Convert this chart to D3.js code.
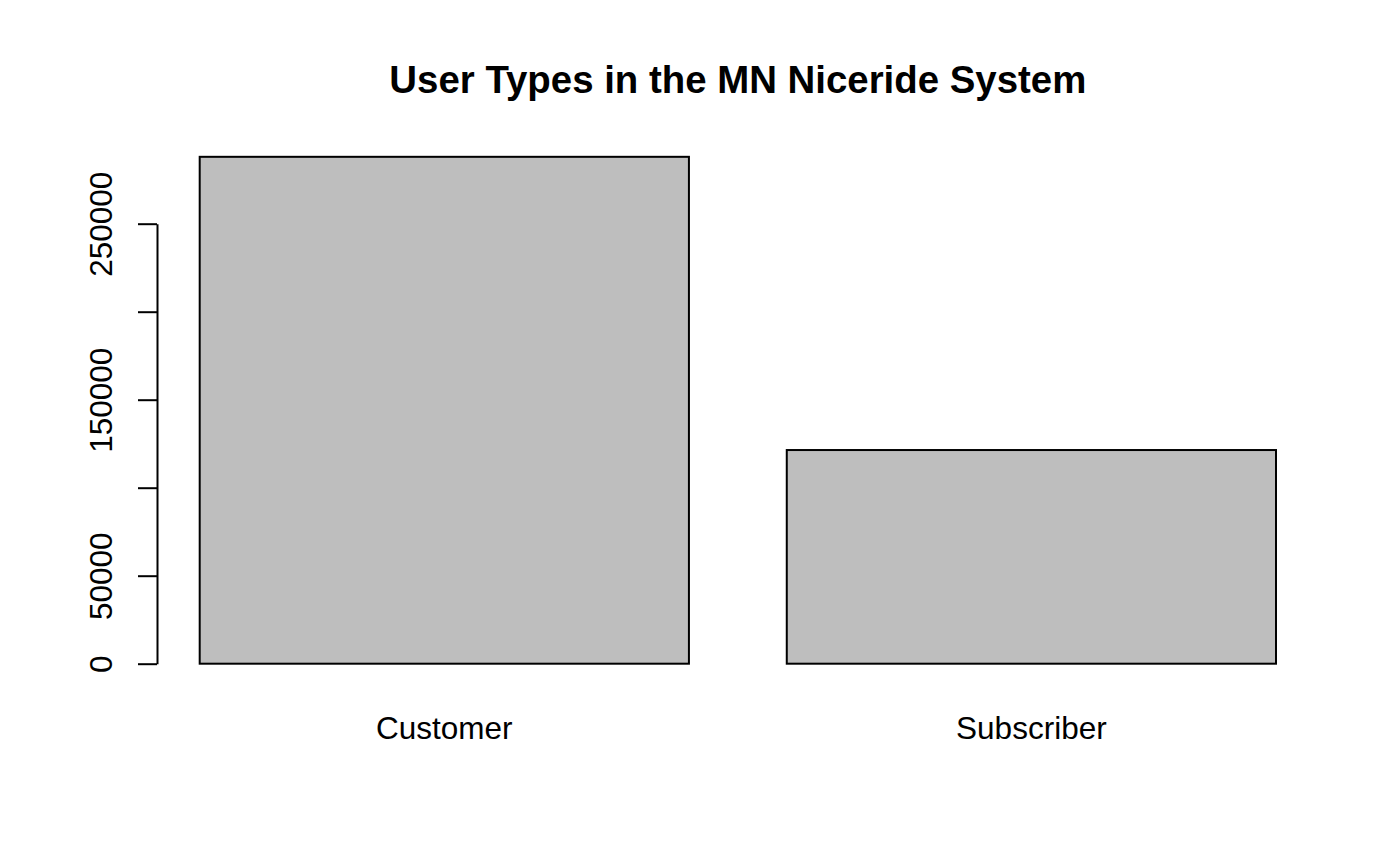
<!DOCTYPE html>
<html>
<head>
<meta charset="utf-8">
<script src="https://cdn.jsdelivr.net/npm/d3@7"></script>
<style>
html,body{margin:0;padding:0;background:#fff;}
svg{display:block;}
text{font-family:"Liberation Sans",Arial,sans-serif;fill:#000;}
</style>
</head>
<body>
<svg id="chart" width="1400" height="865"></svg>
<script>
const categories = ["Customer", "Subscriber"];
const counts = [288000, 121400];
const tickValues = [0, 50000, 100000, 150000, 200000, 250000];
const tickLabels = ["0", "50000", "", "150000", "", "250000"];
const title = "User Types in the MN Niceride System";

const svg = d3.select("#chart");

const y = d3.scaleLinear().domain([0, 250000]).range([663.7, 223.7]);
const x = d3.scaleBand().domain(categories).range([199.7, 1276]).paddingInner(0.2 / 1.2).paddingOuter(0);

// bars
svg.append("g").selectAll("rect")
  .data(categories.map((c, i) => ({c, v: counts[i]})))
  .join("rect")
  .attr("x", d => x(d.c))
  .attr("y", d => y(d.v))
  .attr("width", x.bandwidth())
  .attr("height", d => y(0) - y(d.v))
  .attr("fill", "#BEBEBE")
  .attr("stroke", "#000")
  .attr("stroke-width", 2);

// y axis
const axis = d3.axisLeft(y)
  .tickValues(tickValues)
  .tickSize(19)
  .tickSizeOuter(0)
  .tickFormat((d, i) => tickLabels[i]);
const gA = svg.append("g").attr("transform", "translate(157,0)").call(axis);
gA.select(".domain").attr("stroke", "#000").attr("stroke-width", 2);
gA.selectAll(".tick line").attr("stroke", "#000").attr("stroke-width", 2);
gA.selectAll(".tick text")
  .attr("x", 0).attr("y", 0).attr("dy", null)
  .attr("transform", "translate(-45,0) rotate(-90)")
  .attr("text-anchor", "middle")
  .style("font-family", "'Liberation Sans', Arial, sans-serif")
  .style("font-size", "31.5px")
  .attr("fill", "#000");

// category labels
svg.append("g").selectAll("text")
  .data(categories)
  .join("text")
  .attr("x", d => x(d) + x.bandwidth() / 2)
  .attr("y", 739)
  .attr("text-anchor", "middle")
  .style("font-size", "31.5px")
  .text(d => d);

// title
svg.append("text")
  .attr("x", (x.range()[0] + x.range()[1]) / 2)
  .attr("y", 93)
  .attr("text-anchor", "middle")
  .style("font-size", "38.4px")
  .style("font-weight", "bold")
  .text(title);
</script>
</body>
</html>
